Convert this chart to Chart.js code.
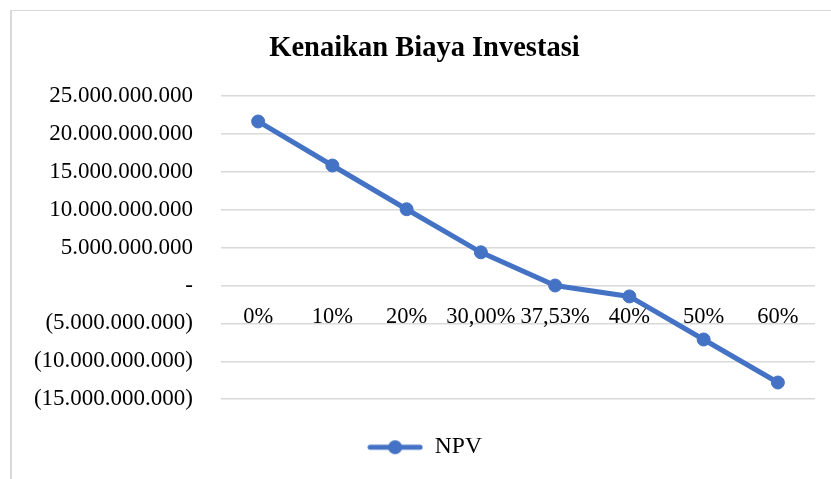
<!DOCTYPE html>
<html>
<head>
<meta charset="utf-8">
<script src="https://cdn.jsdelivr.net/npm/chart.js@4.4.1/dist/chart.umd.min.js"></script>
<style>
	body { margin: 0; background: #fff; }
	#frame {
		position: absolute; left: 10px; top: 10px; width: 900px; height: 600px;
		border-left: 2px solid #d9d9d9; border-top: 1px solid #d9d9d9;
	}
	#wrap { position: absolute; left: 0; top: 0; width: 831px; height: 479px; }
</style>
</head>
<body>
<div id="frame"></div>
<div id="wrap"><canvas id="npvChart"></canvas></div>
<script>
// Kenaikan biaya investasi vs NPV
const categories = ['0%', '10%', '20%', '30,00%', '37,53%', '40%', '50%', '60%'];
const npvValues = [21640000000, 15830000000, 10060000000, 4380000000, 0, -1440000000, -7120000000, -12800000000];
const yTicks = [-15000000000, -10000000000, -5000000000, 0, 5000000000, 10000000000, 15000000000, 20000000000, 25000000000];

const blue = '#4472C4';
const serif = "'Liberation Serif', 'Times New Roman', serif";

function formatRp(v) {
	if (v === 0) return '-';
	const s = Math.abs(v).toString().replace(/\B(?=(\d{3})+(?!\d))/g, '.');
	return v < 0 ? '(' + s + ')' : s;
}

// legend marker: line with a circle in the middle
const marker = document.createElement('canvas');
marker.width = 56;
marker.height = 16;
const mctx = marker.getContext('2d');
mctx.strokeStyle = blue;
mctx.lineWidth = 5;
mctx.lineCap = 'round';
mctx.beginPath();
mctx.moveTo(3, 8);
mctx.lineTo(53, 8);
mctx.stroke();
mctx.fillStyle = blue;
mctx.beginPath();
mctx.arc(28, 8, 7, 0, Math.PI * 2);
mctx.fill();

const ctx = document.getElementById('npvChart').getContext('2d');
new Chart(ctx, {
	type: 'line',
	data: {
		labels: categories,
		datasets: [
			{
				label: 'NPV',
				data: npvValues,
				borderColor: blue,
				backgroundColor: blue,
				borderWidth: 5,
				pointRadius: 6.5,
				pointBorderWidth: 1,
				pointBackgroundColor: blue,
				pointBorderColor: blue,
				pointStyle: 'circle',
				tension: 0,
			},
		],
	},
	options: {
		responsive: true,
		maintainAspectRatio: false,
		animation: false,
		layout: { padding: { left: 34, right: 16, top: 0, bottom: 10 } },
		plugins: {
			title: {
				display: true,
				text: 'Kenaikan Biaya Investasi',
				color: '#000',
				font: { family: serif, size: 28.5, weight: 'bold' },
				padding: { top: 31.5, bottom: 30.3 },
			},
			legend: {
				position: 'bottom',
				labels: {
					color: '#000',
					font: { family: serif, size: 23.5 },
					usePointStyle: true,
					pointStyleWidth: 56,
					padding: 36.3,
					generateLabels: () => [
						{ text: 'NPV', pointStyle: marker, fillStyle: blue, strokeStyle: blue, lineWidth: 0, datasetIndex: 0 },
					],
				},
			},
			tooltip: { enabled: false },
		},
		scales: {
			x: {
				position: { y: 0 },
				offset: true,
				grid: { display: false, drawTicks: false },
				border: { display: false },
				ticks: {
					color: '#000',
					font: { family: serif, size: 22.5 },
					padding: 18,
					maxRotation: 0,
					autoSkip: false,
				},
			},
			y: {
				min: -15000000000,
				max: 25000000000,
				afterBuildTicks: (axis) => {
					axis.ticks = yTicks.map((v) => ({ value: v }));
				},
				afterFit: (axis) => {
					axis.width = 187;
				},
				grid: { color: '#d9d9d9', lineWidth: 1.5, drawTicks: false },
				border: { display: false },
				ticks: {
					color: '#000',
					font: { family: serif, size: 23 },
					padding: 28,
					callback: (v) => formatRp(v),
				},
			},
		},
	},
});
</script>
</body>
</html>
